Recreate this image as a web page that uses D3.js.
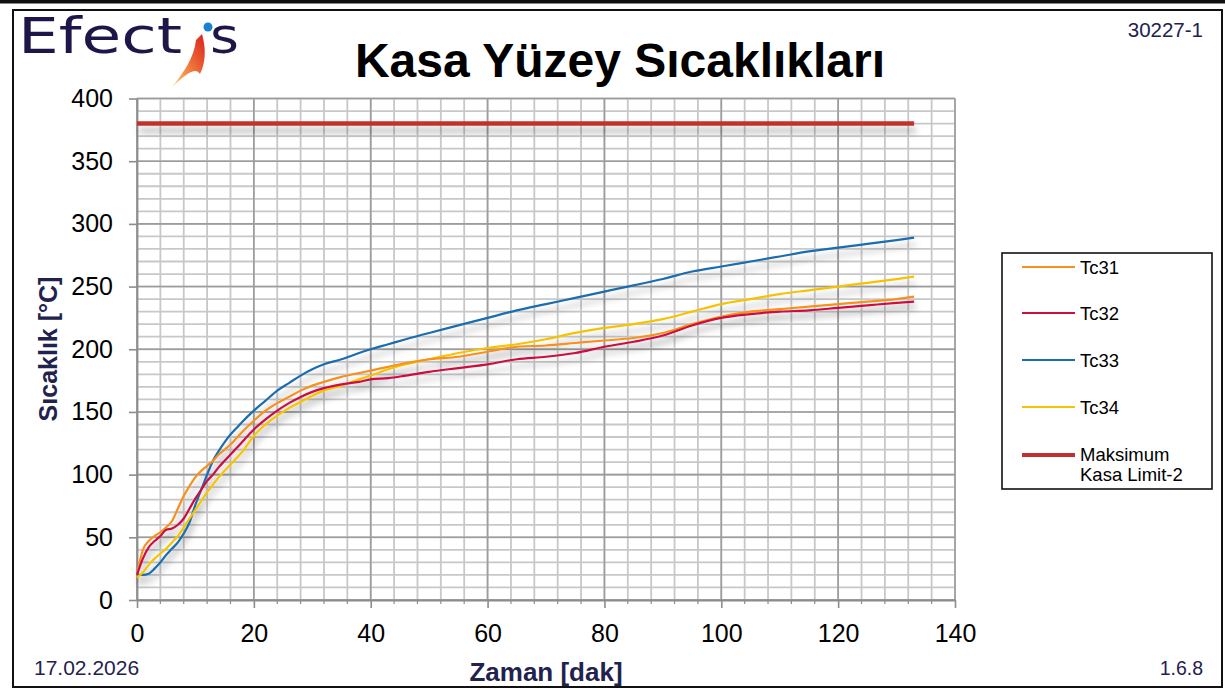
<!DOCTYPE html>
<html>
<head>
<meta charset="utf-8">
<script src="https://cdn.jsdelivr.net/npm/d3@7"></script>
<style>
  body { margin: 0; background: #fff; }
  text { font-family: "Liberation Sans", Arial, sans-serif; }
</style>
</head>
<body>
<script>
var svgWidth = 1225;
var svgHeight = 690;

// time axis (minutes), shared by all thermocouples
var minutes = [0, 1, 2, 3, 4, 5, 6, 7, 8, 9, 10, 11, 12, 13, 14, 15, 16, 17, 18, 20, 22, 24, 26, 28, 30, 32, 35, 38, 40, 43, 46, 50, 55, 60, 65, 70, 75, 80, 85, 90, 95, 100, 105, 110, 115, 120, 125, 130, 133];

var tc31 = [20, 40, 47, 51, 54, 58, 63, 73, 83, 91, 98, 103, 107, 111, 116, 120, 124, 129, 134, 143, 151, 157, 162, 167, 171, 174, 178, 181, 183, 186, 189, 192, 194, 198, 202, 203, 205, 207, 209, 213, 220, 226, 230, 232, 234, 236, 238, 240, 242];
var tc32 = [20, 33, 42, 47, 51, 56, 57, 60, 65, 73, 81, 88, 95, 100, 106, 111, 116, 121, 126, 136, 144, 151, 157, 162, 166, 169, 172, 174, 176, 177, 179, 182, 185, 188, 192, 194, 197, 202, 206, 211, 219, 225, 228, 230, 231, 233, 235, 237, 238];
var tc33 = [20, 20, 21, 25, 30, 36, 41, 46, 53, 62, 76, 88, 100, 111, 119, 126, 132, 137, 142, 151, 159, 167, 173, 179, 184, 188, 192, 197, 200, 204, 208, 213, 219, 225, 231, 236, 241, 246, 251, 256, 262, 266, 270, 274, 278, 281, 284, 287, 289];
var tc34 = [18, 22, 28, 33, 37, 41, 46, 51, 58, 65, 72, 79, 86, 92, 98, 103, 108, 113, 118, 131, 140, 147, 153, 158, 163, 167, 171, 176, 179, 184, 188, 192, 197, 201, 204, 208, 213, 217, 220, 224, 230, 236, 240, 244, 247, 250, 253, 256, 258];

var limitMinutes = [0, 133];
var limitValues = [380, 380];

var seriesNames = ["Tc31", "Tc32", "Tc33", "Tc34"];
var seriesColors = ["#f7901e", "#cc1040", "#1a6daf", "#f7c200"];
var limitName = ["Maksimum", "Kasa Limit-2"];
var limitColor = "#c0302c";

var xTicks = [0, 20, 40, 60, 80, 100, 120, 140];
var yTicks = [0, 50, 100, 150, 200, 250, 300, 350, 400];

var navy = "#22224e";

var svg = d3.select("body")
  .append("svg")
  .attr("width", svgWidth)
  .attr("height", svgHeight);

var defs = svg.append("defs");
var shadow = defs.append("filter")
  .attr("id", "shadow")
  .attr("x", "-5%").attr("y", "-20%")
  .attr("width", "110%").attr("height", "160%");
shadow.append("feDropShadow")
  .attr("dx", 2)
  .attr("dy", 7)
  .attr("stdDeviation", 3)
  .attr("flood-color", "#000")
  .attr("flood-opacity", 0.28);

var swoosh = defs.append("linearGradient")
  .attr("id", "swoosh")
  .attr("x1", "0").attr("y1", "1").attr("x2", "1").attr("y2", "0");
swoosh.append("stop").attr("offset", "0%").attr("stop-color", "#fbd77a");
swoosh.append("stop").attr("offset", "45%").attr("stop-color", "#f07a3a");
swoosh.append("stop").attr("offset", "100%").attr("stop-color", "#d8201e");

// page frame
svg.append("rect")
  .attr("x", 0).attr("y", 0)
  .attr("width", svgWidth).attr("height", 3.5)
  .attr("fill", "#111");
svg.append("rect")
  .attr("x", 13).attr("y", 10)
  .attr("width", 1209).attr("height", 677)
  .attr("fill", "none")
  .attr("stroke", "#111")
  .attr("stroke-width", 2);

// logo
var logo = svg.append("g");
logo.append("text")
  .attr("x", 18).attr("y", 53)
  .attr("textLength", 164)
  .attr("lengthAdjust", "spacingAndGlyphs")
  .attr("font-size", 50)
  .attr("fill", "#1e1648")
  .style("font-family", "DejaVu Sans")
  .text("Efect");
logo.append("path")
  .attr("d", "M172,87 C184,72 194,58 196,40 L202,34 C206,48 206,62 200,74 C196,68 190,70 172,87 Z")
  .attr("fill", "url(#swoosh)");
logo.append("circle")
  .attr("cx", 208).attr("cy", 27).attr("r", 4.5)
  .attr("fill", "#1c7fd0");
logo.append("text")
  .attr("x", 210).attr("y", 53)
  .attr("textLength", 29)
  .attr("lengthAdjust", "spacingAndGlyphs")
  .attr("font-size", 50)
  .attr("fill", "#1e1648")
  .style("font-family", "DejaVu Sans")
  .text("s");

// header / footer texts
svg.append("text")
  .attr("x", 620).attr("y", 77)
  .attr("text-anchor", "middle")
  .attr("font-size", 48)
  .attr("font-weight", "bold")
  .attr("fill", "#000")
  .text("Kasa Yüzey Sıcaklıkları");

svg.append("text")
  .attr("x", 1203).attr("y", 37)
  .attr("text-anchor", "end")
  .attr("font-size", 20.5)
  .attr("fill", navy)
  .text("30227-1");

svg.append("text")
  .attr("x", 34).attr("y", 675)
  .attr("font-size", 21)
  .attr("fill", navy)
  .text("17.02.2026");

svg.append("text")
  .attr("x", 1203).attr("y", 675)
  .attr("text-anchor", "end")
  .attr("font-size", 19.5)
  .attr("fill", navy)
  .text("1.6.8");

// scales
var xScale = d3.scaleLinear().domain([0, 140]).range([137, 955]);
var yScale = d3.scaleLinear().domain([0, 400]).range([600, 98.5]);

// grid
var grid = svg.append("g");
grid.selectAll(".vminor")
  .data(d3.range(0, 141, 4))
  .enter().append("line")
  .attr("x1", d => xScale(d)).attr("x2", d => xScale(d))
  .attr("y1", yScale(0)).attr("y2", yScale(400))
  .attr("stroke", "#c8c8c8").attr("stroke-width", 1.8);
grid.selectAll(".hminor")
  .data(d3.range(0, 401, 10))
  .enter().append("line")
  .attr("x1", xScale(0)).attr("x2", xScale(140))
  .attr("y1", d => yScale(d)).attr("y2", d => yScale(d))
  .attr("stroke", "#c8c8c8").attr("stroke-width", 1.8);
grid.selectAll(".vmajor")
  .data(xTicks)
  .enter().append("line")
  .attr("x1", d => xScale(d)).attr("x2", d => xScale(d))
  .attr("y1", yScale(0)).attr("y2", yScale(400))
  .attr("stroke", "#9c9c9c").attr("stroke-width", 1.6);
grid.selectAll(".hmajor")
  .data(yTicks)
  .enter().append("line")
  .attr("x1", xScale(0)).attr("x2", xScale(140))
  .attr("y1", d => yScale(d)).attr("y2", d => yScale(d))
  .attr("stroke", "#9c9c9c").attr("stroke-width", 1.6);

// axes
var leftAxis = d3.axisLeft(yScale)
  .tickValues(yTicks)
  .tickSize(8)
  .tickSizeOuter(0)
  .tickPadding(16);
var bottomAxis = d3.axisBottom(xScale)
  .tickValues(xTicks)
  .tickSize(8)
  .tickSizeOuter(0)
  .tickPadding(16);

var yAxis = svg.append("g")
  .attr("transform", `translate(${xScale(0)}, 0)`)
  .call(leftAxis);
var xAxis = svg.append("g")
  .attr("transform", `translate(0, ${yScale(0)})`)
  .call(bottomAxis);

svg.append("g")
  .selectAll("line")
  .data(d3.range(0, 141, 4).filter(d => d % 20 !== 0))
  .enter().append("line")
  .attr("x1", d => xScale(d)).attr("x2", d => xScale(d))
  .attr("y1", yScale(0)).attr("y2", yScale(0) + 4)
  .attr("stroke", "#8c8c8c").attr("stroke-width", 1.2);

[xAxis, yAxis].forEach(function(ax) {
  ax.select(".domain").attr("stroke", "#8c8c8c").attr("stroke-width", 1.8);
  ax.selectAll(".tick line").attr("stroke", "#8c8c8c").attr("stroke-width", 1.6);
  ax.selectAll(".tick text")
    .attr("font-size", 25)
    .attr("fill", "#000")
    .style("font-family", "Liberation Sans, Arial, sans-serif");
});

// axis titles
svg.append("text")
  .attr("transform", "translate(57, 349) rotate(-90)")
  .attr("text-anchor", "middle")
  .attr("font-size", 25)
  .attr("font-weight", "bold")
  .attr("fill", navy)
  .text("Sıcaklık [°C]");

svg.append("text")
  .attr("x", 546).attr("y", 681)
  .attr("text-anchor", "middle")
  .attr("font-size", 26)
  .attr("font-weight", "bold")
  .attr("fill", navy)
  .text("Zaman [dak]");

// series
var lineGen = d3.line()
  .x(d => xScale(d[0]))
  .y(d => yScale(d[1]))
  .curve(d3.curveMonotoneX);

var seriesValues = [tc31, tc32, tc33, tc34];
var lines = svg.append("g").attr("filter", "url(#shadow)");

lines.append("path")
  .datum(limitMinutes.map((m, i) => [m, limitValues[i]]))
  .attr("d", lineGen)
  .attr("fill", "none")
  .attr("stroke", limitColor)
  .attr("stroke-width", 4.5);

[2, 3, 0, 1].forEach(function(k) {
  lines.append("path")
    .datum(minutes.map((m, i) => [m, seriesValues[k][i]]))
    .attr("d", lineGen)
    .attr("fill", "none")
    .attr("stroke", seriesColors[k])
    .attr("stroke-width", 2.2)
    .attr("stroke-linejoin", "round");
});

// legend
var legend = svg.append("g");
legend.append("rect")
  .attr("x", 1002).attr("y", 253)
  .attr("width", 210).attr("height", 236)
  .attr("fill", "#fff")
  .attr("stroke", "#111")
  .attr("stroke-width", 1.6);

var legendY = [267, 313, 360, 407];
seriesNames.forEach(function(name, i) {
  legend.append("line")
    .attr("x1", 1022).attr("x2", 1075)
    .attr("y1", legendY[i]).attr("y2", legendY[i])
    .attr("stroke", seriesColors[i])
    .attr("stroke-width", 2);
  legend.append("text")
    .attr("x", 1080).attr("y", legendY[i] + 7)
    .attr("font-size", 18.5)
    .attr("fill", "#000")
    .text(name);
});
legend.append("line")
  .attr("x1", 1022).attr("x2", 1075)
  .attr("y1", 455).attr("y2", 455)
  .attr("stroke", limitColor)
  .attr("stroke-width", 4);
limitName.forEach(function(t, i) {
  legend.append("text")
    .attr("x", 1080).attr("y", 461 + i * 20)
    .attr("font-size", 18.5)
    .attr("fill", "#000")
    .text(t);
});
</script>
</body>
</html>
